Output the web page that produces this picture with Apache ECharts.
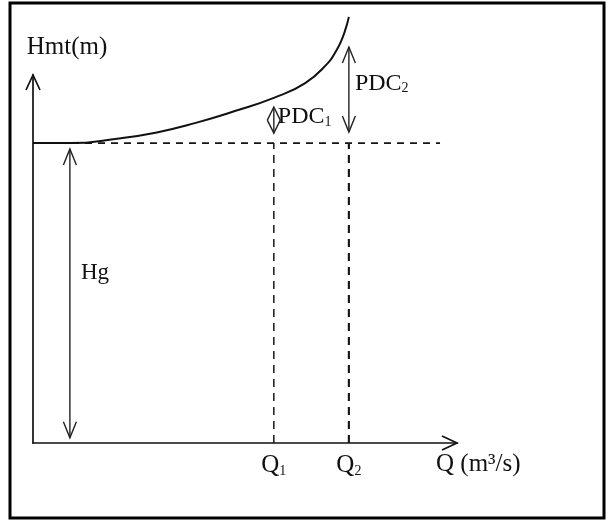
<!DOCTYPE html>
<html>
<head>
<meta charset="utf-8">
<script src="https://cdn.jsdelivr.net/npm/echarts@6/dist/echarts.min.js"></script>
<style>
  html, body { margin: 0; padding: 0; background: #fff; }
  #chart { width: 611px; height: 520px; }
</style>
</head>
<body>
<div id="chart"></div>
<script>
// Static head and the two operating flows
const Hg = 8.15;
const Q1 = 5.68;
const Q2 = 7.45;

// System curve: total head Hmt against flow Q
const curveQ = [0, 0.87, 1.98, 2.92, 3.84, 4.76, 5.68, 6.42, 6.96, 7.12, 7.26, 7.38, 7.45];
const curveH = [8.15, 8.15, 8.27, 8.44, 8.70, 9.02, 9.38, 9.78, 10.33, 10.60, 10.90, 11.28, 11.58];

// Extent of the dashed static-head line
const hgLineEnd = 9.6;

// Double-headed dimension arrows: Hg, PDC1, PDC2
const arrowNames = ['Hg', 'PDC1', 'PDC2'];
const arrowLabels = ['Hg', 'PDC{sub|1}', 'PDC{sub|2}'];
const arrowQ = [0.87, Q1, Q2];
const arrowTop = [7.99, 9.13, 10.76];
const arrowBottom = [0.14, 8.42, 8.45];

// Flow tick labels
const qTickValues = [Q1, Q2];
const qTickLabels = ['Q{sub|1}', 'Q{sub|2}'];

// Axis ranges
const qMax = 10;
const hMax = 10;

const FONT = "'Liberation Serif', 'DejaVu Serif', serif";
const INK = '#111';
const subStyle = { fontFamily: FONT, fontSize: 14, color: INK, fill: INK, verticalAlign: 'bottom', lineHeight: 9 };

// Where each arrow's text sits relative to the arrow's midpoint (px)
const labelOffset = { Hg: [11, -20], PDC1: [4, -3], PDC2: [6, -6] };
const labelSize = { Hg: 23, PDC1: 24, PDC2: 24 };

function chevron(tip, dir, len, half) {
  // dir: unit vector pointing from the arms toward the tip
  const bx = tip[0] - dir[0] * len, by = tip[1] - dir[1] * len;
  const nx = -dir[1] * half, ny = dir[0] * half;
  return [[bx + nx, by + ny], tip, [bx - nx, by - ny]];
}

const arrowData = arrowNames.map((n, i) => [arrowQ[i], arrowTop[i], arrowBottom[i]]);

const chart = echarts.init(document.getElementById('chart'), null, { renderer: 'canvas' });

chart.setOption({
  backgroundColor: '#fff',
  animation: false,
  graphic: [{
    type: 'rect',
    shape: { x: 10, y: 3, width: 594, height: 515 },
    style: { fill: null, stroke: '#000', lineWidth: 3 },
    silent: true
  }],
  grid: { left: 33, right: 154, top: 75, bottom: 77, containLabel: false },
  xAxis: {
    type: 'value', min: 0, max: qMax,
    splitLine: { show: false },
    axisTick: { show: false },
    axisLine: { onZero: false, lineStyle: { color: INK, width: 1.7 } },
    axisLabel: {
      customValues: qTickValues,
      formatter: function (v) {
        const k = qTickValues.findIndex(q => Math.abs(q - v) < 1e-6);
        return k >= 0 ? qTickLabels[k] : '';
      },
      margin: 10, color: INK, fontFamily: FONT, fontSize: 25,
      rich: { sub: subStyle }
    },
    name: 'Q (m³/s)', nameLocation: 'end', nameGap: -21,
    nameTextStyle: { color: INK, fontFamily: FONT, fontSize: 25, align: 'left', verticalAlign: 'top', padding: [9, 0, 0, 0] }
  },
  yAxis: {
    type: 'value', min: 0, max: hMax,
    splitLine: { show: false },
    axisTick: { show: false },
    axisLabel: { show: false },
    axisLine: { onZero: false, lineStyle: { color: INK, width: 1.7 } },
    name: 'Hmt(m)', nameLocation: 'end', nameGap: 15,
    nameTextStyle: { color: INK, fontFamily: FONT, fontSize: 25, padding: [0, 0, 0, 68] }
  },
  series: [
    {
      name: 'Hg line', type: 'line', symbol: 'none', silent: true,
      data: [[0, Hg], [hgLineEnd, Hg]],
      lineStyle: { color: '#151515', width: 1.7, type: [7, 6] }
    },
    {
      name: 'Q1 line', type: 'line', symbol: 'none', silent: true,
      data: [[Q1, 0], [Q1, Hg]],
      lineStyle: { color: '#151515', width: 1.5, type: [8, 6] }
    },
    {
      name: 'Q2 line', type: 'line', symbol: 'none', silent: true,
      data: [[Q2, 0], [Q2, Hg]],
      lineStyle: { color: '#151515', width: 2.1, type: [8, 6] }
    },
    {
      name: 'System curve', type: 'line', symbol: 'none', silent: true,
      clip: false, smooth: true,
      data: curveQ.map((q, i) => [q, curveH[i]]),
      lineStyle: { color: INK, width: 2 }
    },
    {
      name: 'Dimensions', type: 'custom', silent: true, clip: false,
      data: arrowData,
      renderItem: function (params, api) {
        const key = arrowNames[params.dataIndex];
        const q = api.value(0);
        const p1 = api.coord([q, api.value(1)]);
        const p2 = api.coord([q, api.value(2)]);
        const span = Math.abs(p2[1] - p1[1]);
        const len = Math.min(16, span / 2);
        const ls = { stroke: '#222', lineWidth: 1.4, fill: null };
        const off = labelOffset[key];
        return {
          type: 'group',
          children: [
            { type: 'line', shape: { x1: p1[0], y1: p1[1], x2: p2[0], y2: p2[1] }, style: ls },
            { type: 'polyline', shape: { points: chevron(p1, [0, -1], len, 6.5) }, style: ls },
            { type: 'polyline', shape: { points: chevron(p2, [0, 1], len, 6.5) }, style: ls },
            {
              type: 'text',
              x: p1[0] + off[0],
              y: (p1[1] + p2[1]) / 2 + off[1],
              style: {
                text: arrowLabels[params.dataIndex],
                fill: INK, fontFamily: FONT, fontSize: labelSize[key],
                align: 'left', verticalAlign: 'middle',
                rich: { sub: subStyle }
              }
            }
          ]
        };
      }
    },
    {
      name: 'Axis heads', type: 'custom', silent: true, clip: false,
      data: [[qMax, 0], [0, hMax]],
      renderItem: function (params, api) {
        const tip = api.coord([api.value(0), api.value(1)]);
        const dir = params.dataIndex === 0 ? [1, 0] : [0, -1];
        return {
          type: 'polyline',
          shape: { points: chevron(tip, dir, 15, 7) },
          style: { stroke: INK, lineWidth: 1.7, fill: null }
        };
      }
    }
  ]
});
</script>
</body>
</html>
